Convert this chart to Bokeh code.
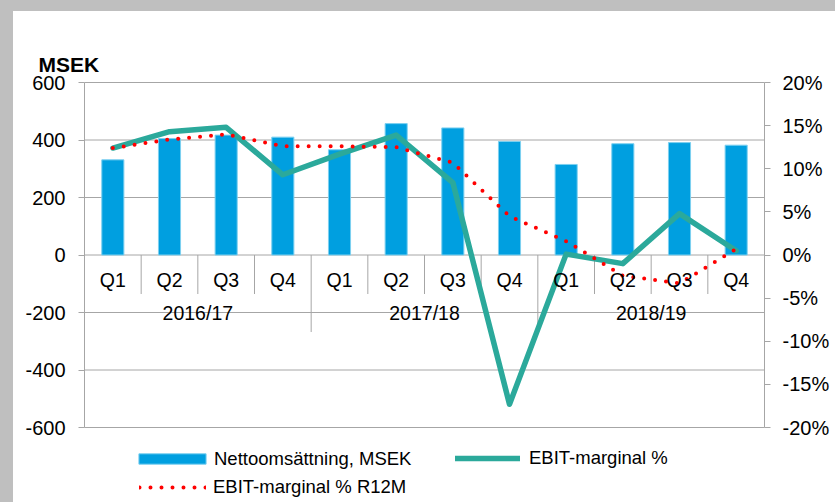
from bokeh.plotting import figure
from bokeh.layouts import column, row
from bokeh.models import (FactorRange, Range1d, LinearAxis, FixedTicker,
                          PrintfTickFormatter, Legend, LegendItem, Label, ColumnDataSource, Spacer)
from bokeh.embed import file_html
from bokeh.resources import INLINE

years = ["2016/17", "2017/18", "2018/19"]
quarters = ["Q1", "Q2", "Q3", "Q4"]
net_sales = [331, 405, 417, 410, 366, 457, 442, 395, 315, 387, 391, 382]
ebit_margin = [12.4, 14.3, 14.8, 9.3, 11.7, 13.9, 8.4, -17.3, 0.1, -1.0, 4.8, 0.5]
ebit_r12m = [12.4, 13.4, 14.0, 12.6, 12.6, 12.5, 10.7, 4.5, 1.6, -2.4, -3.3, 0.7]
left_ticks = [-600, -400, -200, 0, 200, 400, 600]
right_ticks = [-20, -15, -10, -5, 0, 5, 10, 15, 20]

FONT = "Liberation Sans"
GRAY = "#A6A6A6"
BLUE = "#009FE0"
TEAL = "#2BA99B"
BG = "#BFBFBF"

# layout geometry (pixels)
W, H = 835, 502
STRIP_L, STRIP_T = 13, 11
FW, FH = W - STRIP_L, H - STRIP_T
PLOT_L, PLOT_R, PLOT_T, PLOT_B = 84, 764, 82, 427

factors = [(y, q) for y in years for q in quarters]
n = len(factors)
unit_px = (PLOT_R - PLOT_L) / n
pad_units = (PLOT_L - STRIP_L) / unit_px
x_range = FactorRange(*factors, factor_padding=0, group_padding=0,
                      range_padding=pad_units, range_padding_units="absolute")

ymin, ymax = left_ticks[0], left_ticks[-1]
dpp = (ymax - ymin) / (PLOT_B - PLOT_T)
y_end = ymax + (PLOT_T - STRIP_T) * dpp
y_start = ymin - (H - PLOT_B) * dpp
ratio = (right_ticks[-1] - right_ticks[0]) / (ymax - ymin)

p = figure(width=FW, height=FH, x_range=x_range, y_range=Range1d(y_start, y_end),
           output_backend="svg", toolbar_location=None,
           min_border=0, min_border_left=0, min_border_right=0,
           min_border_top=0, min_border_bottom=0)
p.extra_y_ranges = {"pct": Range1d(y_start * ratio, y_end * ratio)}
p.outline_line_color = None
p.background_fill_color = "white"
p.border_fill_color = "white"
p.xgrid.grid_line_color = None
p.ygrid.grid_line_color = None

src = ColumnDataSource(dict(x=factors, sales=net_sales, ebit=ebit_margin, r12=ebit_r12m))

# horizontal gridlines over the category span
p.segment(x0=[0] * len(left_ticks), x1=[n] * len(left_ticks), y0=left_ticks, y1=left_ticks,
          line_color=GRAY, line_width=1)

# separators between quarters and years
qx = [i for i in range(1, n) if i % 4 != 0]
gx = [i for i in range(1, n) if i % 4 == 0]
q_depth = -(293 - 254) * dpp
g_depth = -(331 - 254) * dpp
p.segment(x0=qx, x1=qx, y0=[0] * len(qx), y1=[q_depth] * len(qx), line_color=GRAY, line_width=1)
p.segment(x0=gx, x1=gx, y0=[0] * len(gx), y1=[g_depth] * len(gx), line_color=GRAY, line_width=1)

bars = p.vbar(x="x", top="sales", width=0.39, source=src, fill_color=BLUE,
              line_color="#7DD0F0", line_width=1)
teal = p.line(x="x", y="ebit", source=src, y_range_name="pct", line_color=TEAL,
              line_width=5.5, line_join="round", line_cap="round")
red = p.line(x="x", y="r12", source=src, y_range_name="pct", line_color="#FF0000",
             line_width=4, line_dash="0 11", line_cap="round")

# x axis at zero
xa = p.xaxis[0]
xa.fixed_location = 0
xa.axis_line_color = None
xa.major_tick_line_color = None
xa.minor_tick_line_color = None
xa.major_label_standoff = 8
xa.major_label_text_font = FONT
xa.major_label_text_font_size = "19.5px"
xa.major_label_text_color = "black"
xa.group_text_font = FONT
xa.group_text_font_size = "19.5px"
xa.group_text_font_style = "normal"
xa.group_text_color = "black"
xa.separator_line_color = None
xa.major_label_orientation = "horizontal"
xa.group_label_orientation = "horizontal"

# left axis
ya = p.yaxis[0]
ya.fixed_location = 0
ya.bounds = (ymin, ymax)
ya.ticker = FixedTicker(ticks=left_ticks)
ya.formatter = PrintfTickFormatter(format="%d")
ya.axis_line_color = GRAY
ya.major_tick_line_color = GRAY
ya.major_tick_out = 6
ya.major_tick_in = 0
ya.minor_tick_line_color = None
ya.major_label_standoff = 13
ya.major_label_text_font = FONT
ya.major_label_text_font_size = "20px"
ya.major_label_text_color = "black"

# right axis
ra = LinearAxis(y_range_name="pct", ticker=FixedTicker(ticks=right_ticks),
                formatter=PrintfTickFormatter(format="%d%%"), fixed_location=n,
                bounds=(right_ticks[0], right_ticks[-1]))
ra.axis_line_color = GRAY
ra.major_tick_line_color = GRAY
ra.major_tick_out = 6
ra.major_tick_in = 0
ra.minor_tick_line_color = None
ra.major_label_standoff = 12
ra.major_label_text_font = FONT
ra.major_label_text_font_size = "20px"
ra.major_label_text_color = "black"
p.add_layout(ra, "right")

# title
p.add_layout(Label(x=38 - STRIP_L, y=H - 64, x_units="screen", y_units="screen", text="MSEK",
                   text_font=FONT, text_font_size="21px", text_font_style="bold",
                   text_color="black", text_baseline="alphabetic"))

def mk_legend(item, px_x, px_bottom, gw, gh, standoff):
    lg = Legend(items=[item], location=(px_x - STRIP_L, H - px_bottom), orientation="horizontal",
                padding=0, margin=0, spacing=0, border_line_color=None,
                background_fill_alpha=0, glyph_width=gw, glyph_height=gh,
                label_height=gh, label_standoff=standoff,
                label_text_font=FONT, label_text_font_size="18.5px",
                label_text_color="black")
    p.add_layout(lg)

mk_legend(LegendItem(label="Nettoomsättning, MSEK", renderers=[bars]), 130, 469.5, 84, 13, 0)
mk_legend(LegendItem(label="EBIT-marginal %", renderers=[teal]), 455, 469, 65, 20, 9)
mk_legend(LegendItem(label="EBIT-marginal % R12M", renderers=[red]), 139, 498, 67, 20, 7)

top_strip = Spacer(width=W, height=STRIP_T, styles={"background-color": BG})
left_strip = Spacer(width=STRIP_L, height=FH, styles={"background-color": BG})
page = column(top_strip, row(left_strip, p, spacing=0), spacing=0)

open("out.html", "w").write(file_html(page, INLINE))
